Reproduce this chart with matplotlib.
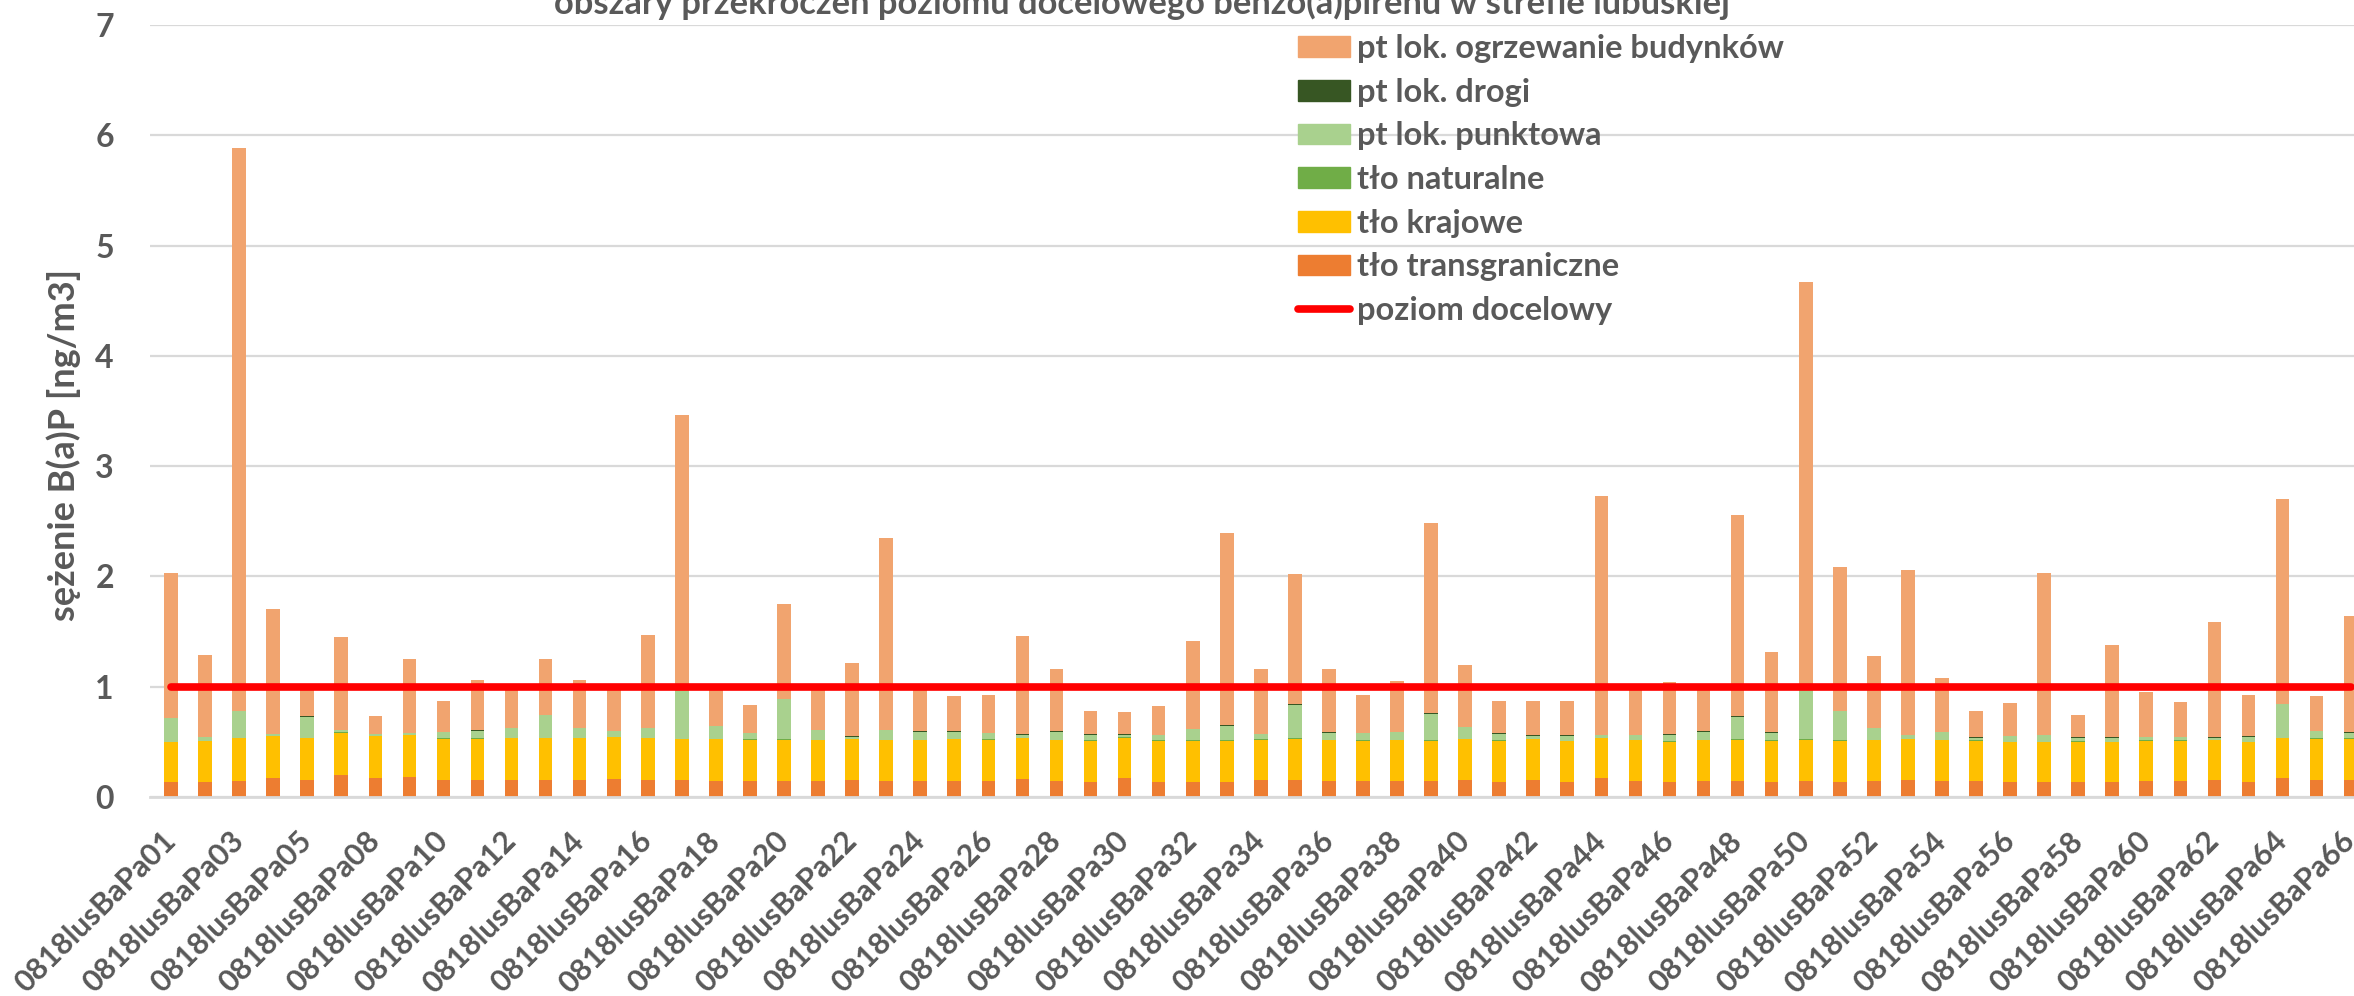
import numpy as np
import matplotlib.pyplot as plt
from matplotlib.patches import Patch
from matplotlib.lines import Line2D

plt.rcParams['font.family'] = ['Lato', 'DejaVu Sans']
plt.rcParams['font.weight'] = 'bold'

# station numbers (0818lusBaPaNN)
station_no = ['01', '02', '03', '04', '05', '06', '08', '09', '10', '11',
              '12', '13', '14', '15', '16', '17', '18', '19', '20', '21',
              '22', '23', '24', '25', '26', '27', '28', '29', '30', '31',
              '32', '33', '34', '35', '36', '37', '38', '39', '40', '41',
              '42', '43', '44', '45', '46', '47', '48', '49', '50', '51',
              '52', '53', '54', '55', '56', '57', '58', '59', '60', '61',
              '62', '63', '64', '65', '66']
stations = ['0818lusBaPa' + s for s in station_no]

tlo_transgraniczne = [0.136, 0.139, 0.148, 0.172, 0.154, 0.199, 0.172, 0.181, 0.154, 0.154,
                      0.157, 0.154, 0.154, 0.163, 0.154, 0.151, 0.148, 0.145, 0.145, 0.145,
                      0.154, 0.145, 0.145, 0.145, 0.145, 0.163, 0.145, 0.136, 0.172, 0.136,
                      0.136, 0.136, 0.151, 0.154, 0.145, 0.142, 0.145, 0.142, 0.154, 0.139,
                      0.154, 0.139, 0.172, 0.148, 0.136, 0.145, 0.145, 0.139, 0.145, 0.136,
                      0.145, 0.154, 0.145, 0.145, 0.136, 0.136, 0.136, 0.136, 0.145, 0.145,
                      0.151, 0.136, 0.172, 0.154, 0.151]
tlo_krajowe = [0.364, 0.369, 0.384, 0.381, 0.381, 0.384, 0.378, 0.378, 0.375, 0.375,
               0.378, 0.378, 0.378, 0.381, 0.378, 0.375, 0.378, 0.375, 0.375, 0.369,
               0.372, 0.372, 0.372, 0.378, 0.375, 0.369, 0.372, 0.375, 0.366, 0.375,
               0.375, 0.375, 0.369, 0.375, 0.369, 0.369, 0.372, 0.369, 0.369, 0.372,
               0.369, 0.366, 0.363, 0.369, 0.366, 0.372, 0.375, 0.372, 0.375, 0.375,
               0.372, 0.369, 0.369, 0.366, 0.362, 0.362, 0.366, 0.362, 0.366, 0.366,
               0.366, 0.362, 0.363, 0.375, 0.378]
tlo_naturalne = [0.003] * 65
pt_punktowa = [0.213, 0.034, 0.247, 0.015, 0.190, 0.018, 0.018, 0.018, 0.054, 0.069,
               0.087, 0.211, 0.090, 0.051, 0.090, 0.432, 0.111, 0.057, 0.365, 0.087,
               0.017, 0.090, 0.072, 0.066, 0.057, 0.023, 0.072, 0.051, 0.024, 0.045,
               0.099, 0.126, 0.045, 0.305, 0.066, 0.063, 0.066, 0.237, 0.108, 0.060,
               0.030, 0.047, 0.024, 0.042, 0.060, 0.072, 0.205, 0.068, 0.477, 0.268,
               0.108, 0.036, 0.072, 0.024, 0.049, 0.061, 0.033, 0.037, 0.030, 0.030,
               0.017, 0.046, 0.305, 0.066, 0.051]
pt_drogi = [0.002, 0.002, 0.002, 0.002, 0.002, 0.002, 0.002, 0.002, 0.002, 0.002,
            0.002, 0.002, 0.002, 0.002, 0.002, 0.002, 0.002, 0.002, 0.002, 0.002,
            0.010, 0.002, 0.002, 0.002, 0.002, 0.010, 0.002, 0.002, 0.002, 0.002,
            0.002, 0.010, 0.002, 0.002, 0.002, 0.002, 0.002, 0.010, 0.002, 0.002,
            0.002, 0.010, 0.002, 0.002, 0.002, 0.002, 0.002, 0.010, 0.002, 0.002,
            0.002, 0.002, 0.002, 0.002, 0.002, 0.002, 0.002, 0.002, 0.002, 0.002,
            0.010, 0.002, 0.002, 0.002, 0.002]
pt_ogrzewanie = [1.314, 0.745, 5.098, 1.129, 0.242, 0.846, 0.159, 0.665, 0.281, 0.462,
                 0.355, 0.499, 0.432, 0.382, 0.840, 2.499, 0.350, 0.248, 0.858, 0.386,
                 0.659, 1.734, 0.398, 0.320, 0.347, 0.894, 0.565, 0.211, 0.208, 0.260,
                 0.798, 1.746, 0.595, 1.187, 0.580, 0.350, 0.465, 1.725, 0.559, 0.290,
                 0.317, 0.302, 2.168, 0.428, 0.480, 0.398, 1.825, 0.719, 3.670, 1.298,
                 0.644, 1.495, 0.490, 0.241, 0.296, 1.471, 0.202, 0.840, 0.402, 0.314,
                 1.036, 0.377, 1.857, 0.314, 1.060]
poziom_docelowy = 1.0

series = [
    ('tło transgraniczne', tlo_transgraniczne, '#ED7D31'),
    ('tło krajowe', tlo_krajowe, '#FFC000'),
    ('tło naturalne', tlo_naturalne, '#70AD47'),
    ('pt lok. punktowa', pt_punktowa, '#A9D18E'),
    ('pt lok. drogi', pt_drogi, '#375623'),
    ('pt lok. ogrzewanie budynków', pt_ogrzewanie, '#F1A46F'),
]

text_col = '#595959'
W, H = 2354, 996
fig = plt.figure(figsize=(W / 100, H / 100), dpi=100)
ax = fig.add_axes([150 / W, 199 / H, (W - 150) / W, 772 / H])

x = np.arange(len(stations))
bottom = np.zeros(len(stations))
for name, vals, col in series:
    vals = np.array(vals)
    ax.bar(x, vals, 0.4, bottom=bottom, color=col, label=name, zorder=2)
    bottom += vals

ax.plot(x, [poziom_docelowy] * len(x), color='#FF0000', lw=5.5,
        solid_capstyle='round', zorder=3, label='poziom docelowy')

ax.set_xlim(-0.617, 64.1)
ax.set_ylim(0, 7)
ax.set_yticks(range(8))
ax.yaxis.grid(True, color='#D9D9D9', lw=1.6, zorder=0)
ax.set_axisbelow(True)
for s in ['top', 'right', 'left']:
    ax.spines[s].set_visible(False)
ax.spines['bottom'].set_color('#D9D9D9')
ax.spines['bottom'].set_linewidth(2)
ax.tick_params(axis='both', length=0, colors=text_col, labelsize=23)
ax.tick_params(axis='x', labelsize=22)
ax.tick_params(axis='y', pad=26)

ax.set_xticks(x[::2])
ax.set_xticklabels(stations[::2], rotation=45, ha='right', va='center',
                   rotation_mode='anchor', fontweight='bold')
for lab in ax.get_xticklabels():
    lab.set_y(-0.045)

fig.text(64 / W, 1 - 445 / H, 'sężenie B(a)P [ng/m3]', rotation=90, ha='center',
         va='center', fontsize=26, color=text_col, fontweight='bold')
fig.text(1142 / W, 1 - 14 / H,
         'obszary przekroczeń poziomu docelowego benzo(a)pirenu w strefie lubuskiej',
         ha='center', va='baseline', fontsize=24.8, color=text_col, fontweight='bold')

handles = [Patch(color=c) for _, _, c in series[::-1]]
handles.append(Line2D([0], [0], color='#FF0000', lw=5.5, solid_capstyle='round'))
labels = [n for n, _, _ in series[::-1]] + ['poziom docelowy']
leg = ax.legend(handles, labels, loc='upper left', bbox_to_anchor=(1298 / W, 1 - 34 / H),
                bbox_transform=fig.transFigure, frameon=False, fontsize=23.5,
                handlelength=1.6, handleheight=0.6, handletextpad=0.2,
                labelspacing=0.45, borderpad=0, borderaxespad=0)
for t in leg.get_texts():
    t.set_color(text_col)

fig.savefig('out.png', dpi=100)
